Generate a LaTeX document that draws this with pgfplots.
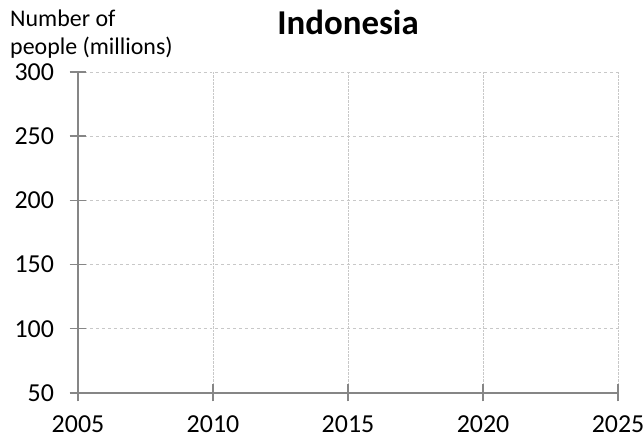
\documentclass[border=0pt]{standalone}
\usepackage{fontspec}
\setmainfont{Carlito}
\usepackage{pgfplots}
\pgfplotsset{compat=1.18}
\begin{document}
\begin{tikzpicture}[x=1bp,y=1bp]
\useasboundingbox (-78,-47) rectangle (566,393);
\begin{axis}[
  at={(0,0)}, anchor=origin,
  scale only axis,
  width=540bp, height=321bp,
  xmin=2005, xmax=2025, ymin=50, ymax=300,
  xtick={2005,2010,2015,2020,2025},
  ytick={50,100,150,200,250,300},
  axis x line*=bottom, axis y line*=left,
  axis line style={-, draw={rgb,255:red,134;green,134;blue,134}, line width=1.4bp},
  tick style={draw={rgb,255:red,134;green,134;blue,134}, line width=1.4bp},
  tick align=center,
  major tick length=17bp,
  grid=major,
  major x grid style={densely dotted, draw={rgb,255:red,200;green,200;blue,200}, line width=0.8bp},
  major y grid style={dashed, draw={rgb,255:red,200;green,200;blue,200}, line width=0.8bp},
  /pgf/number format/assume math mode=true,
  /pgf/number format/1000 sep={},
  ticklabel style={font=\fontsize{26}{30}\selectfont},
  every x tick label/.append style={yshift=-11bp},
  every y tick label/.append style={xshift=-12bp},
]
\addplot[draw=none, forget plot] coordinates {(2005,50)};
\end{axis}
\node[anchor=base west, inner sep=0pt, font=\fontsize{24}{28}\selectfont] at (-68,366) {Number of};
\node[anchor=base west, inner sep=0pt, font=\fontsize{24}{28}\selectfont] at (-68,338) {people (millions)};
\node[anchor=base, inner sep=0pt, font=\fontsize{35}{40}\selectfont\bfseries] at (270,358) {Indonesia};
\end{tikzpicture}
\end{document}
